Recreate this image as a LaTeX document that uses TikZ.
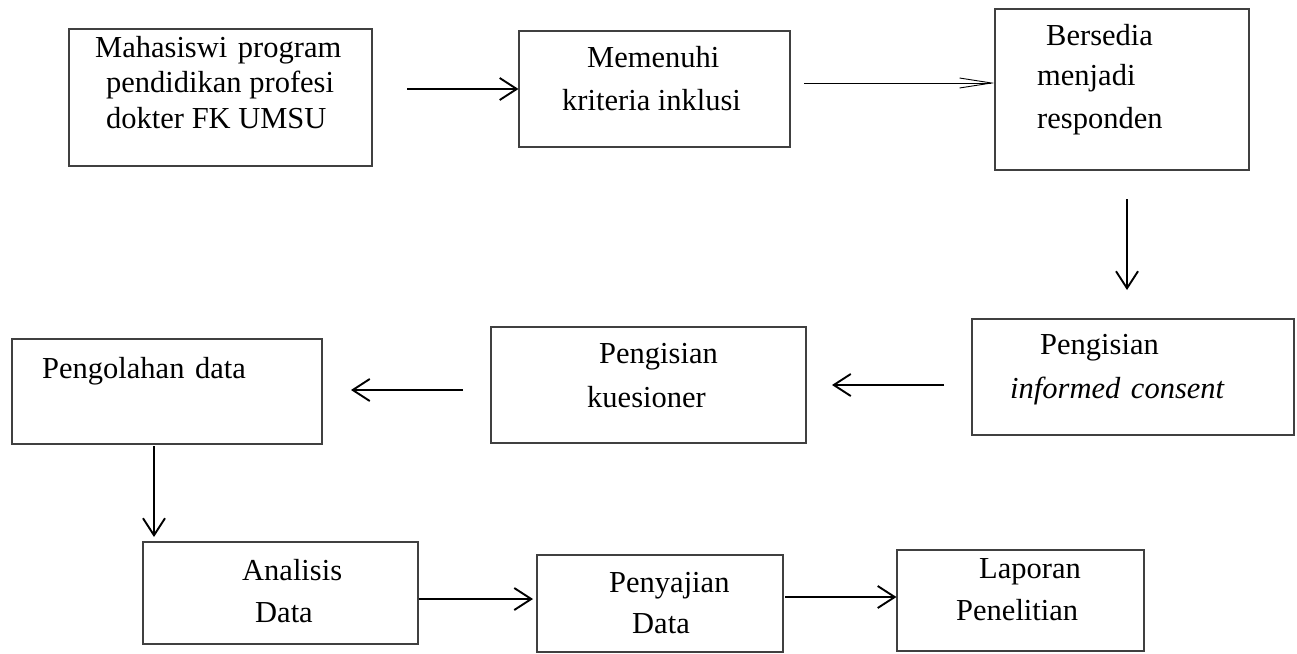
\documentclass[tikz,border=0pt]{standalone}
\usepackage{fontspec}
\setmainfont{Liberation Serif}
\usetikzlibrary{arrows.meta}
\tikzset{
  box/.style={draw=black!75, line width=1.1pt, rectangle, inner sep=0pt, fill=none},
  txt/.style={anchor=base west, inner sep=0pt, font=\fontsize{30.5}{36}\selectfont},
  arr/.style={line width=1.9pt, -{Straight Barb[length=17pt,width=22pt]}},
  thinarr/.style={line width=0.9pt, -{Straight Barb[length=32pt,width=10pt]}}
}
\begin{document}
\begin{tikzpicture}[x=1pt,y=-1pt]
\useasboundingbox (0,0) rectangle (1297,653);
% boxes
\node[box, minimum width=303pt, minimum height=137pt] (b1) at (220.5,97.5) {};
\node[box, minimum width=271pt, minimum height=116pt] (b2) at (654.5,89) {};
\node[box, minimum width=254pt, minimum height=161pt] (b3) at (1122,89.5) {};
\node[box, minimum width=322pt, minimum height=116pt] (b4) at (1133,377) {};
\node[box, minimum width=315pt, minimum height=116pt] (b5) at (648.5,385) {};
\node[box, minimum width=310pt, minimum height=105pt] (b6) at (167,391.5) {};
\node[box, minimum width=275pt, minimum height=102pt] (b7) at (280.5,593) {};
\node[box, minimum width=246pt, minimum height=97pt] (b8) at (660,603.5) {};
\node[box, minimum width=247pt, minimum height=101pt] (b9) at (1020.5,600.5) {};
% texts
\node[txt] (t1a) at (95,57) {Mahasiswi\hspace{3pt} program};
\node[txt] (t1b) at (106,92) {pendidikan profesi};
\node[txt] (t1c) at (106,128) {dokter FK UMSU};
\node[txt] (t2a) at (587,67) {Memenuhi};
\node[txt] (t2b) at (562,110) {kriteria inklusi};
\node[txt] (t3a) at (1046,45) {Bersedia};
\node[txt] (t3b) at (1037,85) {menjadi};
\node[txt] (t3c) at (1037,128) {responden};
\node[txt] (t4a) at (1040,354) {Pengisian};
\node[txt] (t4b) at (1010,398) {\itshape informed\hspace{3pt} consent};
\node[txt] (t5a) at (599,363) {Pengisian};
\node[txt] (t5b) at (587,407) {kuesioner};
\node[txt] (t6a) at (42,378) {Pengolahan\hspace{3pt} data};
\node[txt] (t7a) at (242,580) {Analisis};
\node[txt] (t7b) at (255,622) {Data};
\node[txt] (t8a) at (609,592) {Penyajian};
\node[txt] (t8b) at (632,633) {Data};
\node[txt] (t9a) at (979,578) {Laporan};
\node[txt] (t9b) at (956,620) {Penelitian};
% connector end points
\coordinate (a1s) at (407,89);
\coordinate (a2s) at (804,83);
\coordinate (a3s) at (1127,199);
\coordinate (a3e) at (1127,290);
\coordinate (a4s) at (944,385);
\coordinate (a4e) at (832,385);
\coordinate (a5s) at (463,390);
\coordinate (a5e) at (351,390);
\coordinate (a6s) at (154,446);
\coordinate (a6e) at (154,537);
\coordinate (a7e) at (533,599);
\coordinate (a8s) at (785,597);
% connectors
\draw[arr] (a1s) -- (a1s -| b2.west);
\draw[thinarr] (a2s) -- (a2s -| b3.west);
\draw[arr] (a3s) -- (a3e);
\draw[arr] (a4s) -- (a4e);
\draw[arr] (a5s) -- (a5e);
\draw[arr] (a6s) -- (a6e);
\draw[arr] (a7e -| b7.east) -- (a7e);
\draw[arr] (a8s) -- (a8s -| b9.west);
\end{tikzpicture}
\end{document}
